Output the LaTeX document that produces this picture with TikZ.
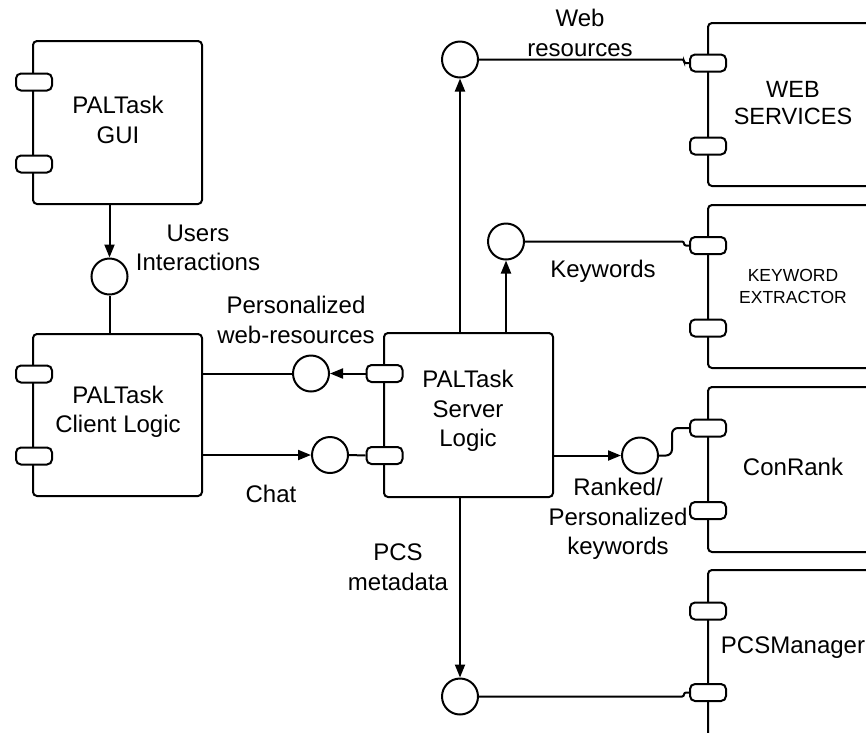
\documentclass[tikz,border=0pt]{standalone}
\usepackage{fontspec}
\setmainfont{Liberation Sans}
\usetikzlibrary{arrows.meta}
\begin{document}
\begin{tikzpicture}[x=1pt,y=-1pt, line width=2pt,
  comp/.style={draw, rounded corners=4pt, fill=white, inner sep=0pt},
  port/.style={draw, rounded corners=5pt, fill=white, minimum width=36pt, minimum height=17pt, inner sep=0pt},
  iface/.style={draw, circle, minimum size=36pt, inner sep=0pt, fill=white},
  lbl/.style={align=center, font=\fontsize{24}{29.5}\selectfont, inner sep=0pt},
  small/.style={align=center, font=\fontsize{17.5}{22}\selectfont, inner sep=0pt},
  arr/.style={-{Triangle[length=13pt,width=10pt]}},
  link/.style={rounded corners=2pt}]
\useasboundingbox (0,0) rectangle (866,732);
\clip (0,0) rectangle (866,732);

% components
\node[comp, minimum width=169pt, minimum height=163pt] (gui) at (117.5,122.5) {};
\node[comp, minimum width=169pt, minimum height=162pt] (client) at (117.5,415) {};
\node[comp, minimum width=169pt, minimum height=164pt] (server) at (468.5,415) {};
\node[comp, minimum width=200pt, minimum height=163pt] (websrv) at (808,104.5) {};
\node[comp, minimum width=200pt, minimum height=163pt] (kwext) at (808,286.5) {};
\node[comp, minimum width=200pt, minimum height=165pt] (conrank) at (808,469.5) {};
\node[comp, minimum width=200pt, minimum height=230pt] (pcsman) at (808,685) {};

% ports
\node[port] (g1) at (34,82) {};
\node[port] (g2) at (34,164) {};
\node[port] (c1) at (34,374) {};
\node[port] (c2) at (34,456) {};
\node[port] (s1) at (384.5,373.5) {};
\node[port] (s2) at (384.5,455.5) {};
\node[port] (w1) at (708,63) {};
\node[port] (w2) at (708,146) {};
\node[port] (k1) at (708,245.5) {};
\node[port] (k2) at (708,328) {};
\node[port] (r1) at (708,428) {};
\node[port] (r2) at (708,510.5) {};
\node[port] (p1) at (708,611) {};
\node[port] (p2) at (708,692.5) {};

% component texts
\node[lbl] (guitxt) at (118,120) {PALTask\\GUI};
\node[lbl] (clienttxt) at (118,412) {PALTask\\Client Logic};
\node[lbl] (servertxt) at (468,411) {PALTask\\Server\\Logic};
\node[lbl, font=\fontsize{23.5}{27}\selectfont] (webtxt) at (793,103) {WEB\\SERVICES};
\node[small] (kwtxt) at (793,286) {KEYWORD\\EXTRACTOR};
\node[lbl] (crtxt) at (793,467) {ConRank};
\node[lbl] (pcstxt) at (793,648) {PCSManager};

% interfaces
\node[iface] (ui) at (109.5,276.5) {};
\node[iface] (pw) at (311,373.5) {};
\node[iface] (chat) at (330,455) {};
\node[iface] (web) at (460,59.5) {};
\node[iface] (kw) at (506,241.5) {};
\node[iface] (cr) at (640,455.5) {};
\node[iface] (pcs) at (460,696.5) {};

% connectors
\draw[arr] (ui |- gui.south) -- (ui.north);
\draw (ui.south) -- (ui |- client.north);
\draw (client.east |- pw) -- (pw.west);
\draw[arr] (s1.west) -- (pw.east);
\draw[arr] (client.east |- chat) -- (chat.west);
\draw (chat.east) -- (s2.west);
\draw[arr] (web |- server.north) -- (web.south);
\draw[arr] (kw |- server.north) -- (kw.south);
\draw[arr] (server.east |- cr) -- (cr.west);
\draw[arr] (pcs |- server.south) -- (pcs.north);
\draw[link] (web.east) -- ([xshift=-5pt]w1.west |- web.east) -- ([xshift=-5pt]w1.west) -- (w1.west);
\draw[link] (kw.east) -- ([xshift=-5pt]k1.west |- kw.east) -- ([xshift=-5pt]k1.west) -- (k1.west);
\draw[rounded corners=6pt] (cr.east) -- ([xshift=-17pt]r1.west |- cr.east) -- ([xshift=-17pt]r1.west) -- (r1.west);
\draw[link] (pcs.east) -- ([xshift=-5pt]p2.west |- pcs.east) -- ([xshift=-5pt]p2.west) -- (p2.west);

% connector labels
\node[lbl] (uilbl) at (198,248) {Users\\Interactions};
\node[lbl] (pwlbl) at (296,320) {Personalized\\web-resources};
\node[lbl] (chatlbl) at (271,494) {Chat};
\node[lbl] (weblbl) at (580,33) {Web\\resources};
\node[lbl] (kwlbl) at (603,271) {Keywords};
\node[lbl] (crlbl) at (618,519) {Ranked/\\Personalized\\keywords};
\node[lbl] (pcslbl) at (398,567) {PCS\\metadata};
\end{tikzpicture}
\end{document}
